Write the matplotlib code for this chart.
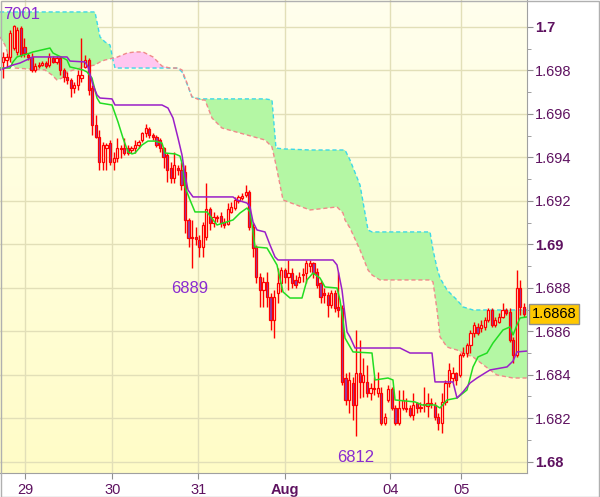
import numpy as np
import matplotlib
matplotlib.use('Agg')
import matplotlib.pyplot as plt
from matplotlib.patches import Rectangle
import matplotlib.transforms as mtransforms

plt.rcParams['font.family'] = ['Liberation Sans', 'DejaVu Sans']

# hourly candles
opens = [
    1.69839, 1.69848, 1.69862, 1.69903, 1.69885, 1.69995, 1.69908, 1.69871, 1.69862, 1.69802,
    1.69820, 1.69825, 1.69834, 1.69825, 1.69857, 1.69839, 1.69857, 1.69802, 1.69770, 1.69756,
    1.69719, 1.69733, 1.69765, 1.69816, 1.69848, 1.69719, 1.69549, 1.69494, 1.69379, 1.69443,
    1.69466, 1.69379, 1.69397, 1.69443, 1.69443, 1.69443, 1.69434, 1.69443, 1.69457, 1.69480,
    1.69512, 1.69531, 1.69503, 1.69494, 1.69480, 1.69443, 1.69411, 1.69351, 1.69305, 1.69351,
    1.69342, 1.69333, 1.69112, 1.69034, 1.69034, 1.69020, 1.68988, 1.69034, 1.69163, 1.69098,
    1.69126, 1.69130, 1.69103, 1.69094, 1.69149, 1.69167, 1.69199, 1.69213, 1.69227, 1.69241,
    1.69080, 1.68988, 1.68850, 1.68790, 1.68827, 1.68758, 1.68652, 1.68776, 1.68822, 1.68882,
    1.68850, 1.68868, 1.68836, 1.68827, 1.68859, 1.68868, 1.68900, 1.68914, 1.68873, 1.68822,
    1.68776, 1.68767, 1.68721, 1.68776, 1.68712, 1.68707, 1.68385, 1.68284, 1.68362, 1.68261,
    1.68408, 1.68367, 1.68367, 1.68316, 1.68339, 1.68316, 1.68316, 1.68178, 1.68284, 1.68335,
    1.68247, 1.68178, 1.68247, 1.68247, 1.68247, 1.68215, 1.68270, 1.68252, 1.68261, 1.68256,
    1.68270, 1.68261, 1.68206, 1.68178, 1.68275, 1.68362, 1.68385, 1.68408, 1.68399, 1.68491,
    1.68500, 1.68537, 1.68592, 1.68620, 1.68615, 1.68620, 1.68652, 1.68698, 1.68629, 1.68643,
    1.68666, 1.68698, 1.68689, 1.68560, 1.68491, 1.68799, 1.68712,
]
highs = [
    1.69885, 1.69880, 1.69986, 1.70010, 1.70000, 1.70004, 1.69949, 1.69880, 1.69880, 1.69834,
    1.69839, 1.69843, 1.69843, 1.69880, 1.69866, 1.69866, 1.69866, 1.69811, 1.69793, 1.69765,
    1.69747, 1.69802, 1.69949, 1.69871, 1.69857, 1.69733, 1.69595, 1.69526, 1.69471, 1.69466,
    1.69480, 1.69425, 1.69489, 1.69457, 1.69489, 1.69457, 1.69452, 1.69480, 1.69480, 1.69517,
    1.69554, 1.69540, 1.69512, 1.69503, 1.69489, 1.69448, 1.69420, 1.69379, 1.69425, 1.69365,
    1.69379, 1.69365, 1.69121, 1.69112, 1.69080, 1.69043, 1.69103, 1.69282, 1.69172, 1.69149,
    1.69135, 1.69149, 1.69121, 1.69190, 1.69195, 1.69218, 1.69227, 1.69236, 1.69273, 1.69250,
    1.69098, 1.68997, 1.68868, 1.68850, 1.68873, 1.68776, 1.68790, 1.68891, 1.68896, 1.68891,
    1.68928, 1.68891, 1.68859, 1.68873, 1.68891, 1.68928, 1.68928, 1.68919, 1.68891, 1.68836,
    1.68799, 1.68781, 1.68790, 1.68790, 1.68873, 1.68721, 1.68408, 1.68413, 1.68390, 1.68606,
    1.68560, 1.68477, 1.68445, 1.68362, 1.68390, 1.68413, 1.68344, 1.68224, 1.68353, 1.68344,
    1.68261, 1.68330, 1.68330, 1.68293, 1.68261, 1.68316, 1.68275, 1.68275, 1.68344, 1.68316,
    1.68293, 1.68275, 1.68224, 1.68316, 1.68376, 1.68454, 1.68436, 1.68413, 1.68500, 1.68528,
    1.68546, 1.68606, 1.68643, 1.68638, 1.68652, 1.68666, 1.68707, 1.68707, 1.68666, 1.68684,
    1.68730, 1.68707, 1.68707, 1.68574, 1.68882, 1.68836, 1.68730,
]
lows = [
    1.69765, 1.69816, 1.69839, 1.69894, 1.69871, 1.69862, 1.69862, 1.69848, 1.69793, 1.69793,
    1.69811, 1.69820, 1.69811, 1.69816, 1.69834, 1.69830, 1.69779, 1.69747, 1.69738, 1.69678,
    1.69696, 1.69710, 1.69747, 1.69811, 1.69687, 1.69503, 1.69489, 1.69342, 1.69342, 1.69342,
    1.69365, 1.69342, 1.69379, 1.69397, 1.69411, 1.69411, 1.69420, 1.69420, 1.69443, 1.69471,
    1.69494, 1.69489, 1.69480, 1.69448, 1.69425, 1.69351, 1.69287, 1.69282, 1.69282, 1.69319,
    1.69250, 1.69052, 1.68988, 1.68890, 1.68997, 1.68942, 1.68942, 1.69020, 1.69066, 1.69080,
    1.69103, 1.69080, 1.69075, 1.69089, 1.69144, 1.69158, 1.69190, 1.69204, 1.69218, 1.69066,
    1.68942, 1.68822, 1.68712, 1.68712, 1.68712, 1.68606, 1.68569, 1.68730, 1.68781, 1.68822,
    1.68790, 1.68799, 1.68799, 1.68822, 1.68827, 1.68822, 1.68873, 1.68845, 1.68799, 1.68730,
    1.68730, 1.68666, 1.68707, 1.68689, 1.68666, 1.68353, 1.68261, 1.68224, 1.68192, 1.68120,
    1.68293, 1.68298, 1.68298, 1.68284, 1.68307, 1.68298, 1.68169, 1.68169, 1.68275, 1.68238,
    1.68169, 1.68169, 1.68238, 1.68229, 1.68206, 1.68192, 1.68224, 1.68229, 1.68229, 1.68206,
    1.68247, 1.68192, 1.68146, 1.68132, 1.68261, 1.68344, 1.68367, 1.68353, 1.68390, 1.68482,
    1.68482, 1.68500, 1.68574, 1.68583, 1.68597, 1.68606, 1.68643, 1.68620, 1.68620, 1.68638,
    1.68661, 1.68675, 1.68551, 1.68454, 1.68482, 1.68675, 1.68666,
]
closes = [
    1.69862, 1.69862, 1.69972, 1.70004, 1.69986, 1.69871, 1.69880, 1.69862, 1.69802, 1.69820,
    1.69825, 1.69834, 1.69820, 1.69862, 1.69839, 1.69857, 1.69802, 1.69770, 1.69756, 1.69719,
    1.69733, 1.69779, 1.69779, 1.69848, 1.69710, 1.69549, 1.69494, 1.69379, 1.69457, 1.69457,
    1.69379, 1.69397, 1.69443, 1.69440, 1.69420, 1.69420, 1.69443, 1.69457, 1.69471, 1.69512,
    1.69535, 1.69503, 1.69494, 1.69457, 1.69443, 1.69402, 1.69342, 1.69305, 1.69365, 1.69342,
    1.69273, 1.69112, 1.69029, 1.69030, 1.69025, 1.68988, 1.69089, 1.69163, 1.69098, 1.69126,
    1.69121, 1.69098, 1.69089, 1.69163, 1.69172, 1.69204, 1.69218, 1.69222, 1.69241, 1.69080,
    1.68983, 1.68850, 1.68790, 1.68827, 1.68758, 1.68652, 1.68758, 1.68822, 1.68882, 1.68850,
    1.68868, 1.68822, 1.68813, 1.68850, 1.68864, 1.68914, 1.68914, 1.68868, 1.68813, 1.68758,
    1.68767, 1.68721, 1.68776, 1.68707, 1.68698, 1.68367, 1.68284, 1.68376, 1.68261, 1.68408,
    1.68367, 1.68399, 1.68316, 1.68339, 1.68335, 1.68339, 1.68178, 1.68206, 1.68335, 1.68247,
    1.68178, 1.68247, 1.68284, 1.68243, 1.68215, 1.68261, 1.68247, 1.68247, 1.68266, 1.68270,
    1.68266, 1.68206, 1.68178, 1.68275, 1.68362, 1.68422, 1.68408, 1.68376, 1.68491, 1.68500,
    1.68537, 1.68592, 1.68629, 1.68592, 1.68629, 1.68652, 1.68698, 1.68629, 1.68652, 1.68666,
    1.68698, 1.68684, 1.68560, 1.68491, 1.68799, 1.68712, 1.68680,
]

# conversion line (green) and base line (purple), vertices in bar units
tenkan_x = [-0.84, 1.96, 2.80, 3.92, 7.57, 8.41, 13.17, 14.01, 17.94, 18.78, 22.42, 23.54,
            24.94, 26.35, 27.19, 30.55, 32.23, 33.63, 35.03, 36.15, 37.00, 38.96, 40.64, 42.60,
            44.56, 45.40, 48.21, 49.61, 50.45, 51.01, 52.41, 53.81, 57.17, 59.98, 64.46, 66.42,
            68.39, 69.23, 69.79, 70.63, 73.99, 76.79, 78.48, 80.44, 83.80, 85.20, 86.88, 88.85,
            90.25, 93.61, 94.45, 95.29, 95.85, 98.09, 103.42, 104.26, 107.90, 109.30, 109.87,
            115.47, 117.43, 121.08, 122.48, 124.44, 127.24, 130.04, 131.73, 133.13, 135.65,
            137.33, 140.13, 142.10, 142.94, 144.06, 144.90, 146.86]
tenkan_y = [1.69811, 1.69811, 1.69839, 1.69862, 1.69880, 1.69885, 1.69903, 1.69880, 1.69848,
            1.69816, 1.69802, 1.69793, 1.69765, 1.69673, 1.69650, 1.69641, 1.69563, 1.69489,
            1.69425, 1.69416, 1.69420, 1.69457, 1.69475, 1.69475, 1.69466, 1.69420, 1.69416,
            1.69406, 1.69356, 1.69264, 1.69204, 1.69149, 1.69149, 1.69089, 1.69112, 1.69144,
            1.69167, 1.69149, 1.69089, 1.68988, 1.68983, 1.68905, 1.68781, 1.68753, 1.68753,
            1.68836, 1.68868, 1.68845, 1.68804, 1.68799, 1.68744, 1.68652, 1.68569, 1.68505,
            1.68500, 1.68376, 1.68385, 1.68376, 1.68284, 1.68275, 1.68261, 1.68261, 1.68247,
            1.68284, 1.68293, 1.68330, 1.68436, 1.68482, 1.68500, 1.68546, 1.68606, 1.68620,
            1.68583, 1.68629, 1.68661, 1.68666]
kijun_x = [-0.84, 2.80, 4.76, 8.41, 17.94, 18.78, 22.98, 23.82, 25.22, 26.35, 27.19, 30.55,
           31.39, 44.56, 46.24, 47.65, 49.05, 50.17, 51.01, 51.85, 53.25, 64.46, 65.58, 68.39,
           69.23, 70.07, 71.19, 73.43, 74.83, 76.23, 77.07, 92.49, 93.61, 95.01, 96.41, 97.25,
           98.65, 111.27, 114.07, 120.24, 121.08, 126.12, 127.24, 128.92, 130.89, 132.85,
           135.09, 136.49, 141.26, 142.94, 144.06, 146.86]
kijun_y = [1.69802, 1.69825, 1.69834, 1.69862, 1.69862, 1.69843, 1.69839, 1.69816, 1.69733,
           1.69687, 1.69673, 1.69669, 1.69641, 1.69641, 1.69627, 1.69581, 1.69489, 1.69411,
           1.69319, 1.69250, 1.69218, 1.69218, 1.69204, 1.69190, 1.69172, 1.69103, 1.69066,
           1.69057, 1.68997, 1.68942, 1.68928, 1.68928, 1.68905, 1.68790, 1.68597, 1.68574,
           1.68523, 1.68523, 1.68500, 1.68500, 1.68367, 1.68367, 1.68293, 1.68321, 1.68362,
           1.68385, 1.68408, 1.68422, 1.68436, 1.68463, 1.68505, 1.68509]

# cloud: leading span A (cyan) and span B (salmon)
cloud_x = [-0.84, 0.56, 1.96, 3.36, 11.77, 13.73, 15.13, 16.54, 17.94, 21.58, 25.78, 27.19,
           28.59, 29.99, 30.83, 31.39, 34.75, 37.00, 39.24, 42.04, 44.56, 46.81, 49.05, 50.17,
           51.57, 52.97, 55.21, 56.61, 58.58, 61.38, 73.43, 75.39, 76.51, 78.48, 86.04, 93.61,
           95.29, 95.85, 97.25, 100.06, 102.30, 103.42, 105.66, 119.68, 120.52, 121.64, 122.48,
           124.44, 125.28, 127.24, 128.92, 131.73, 136.49, 138.45, 142.94, 146.86]
span_a = [1.70069, 1.70069, 1.70069, 1.70069, 1.70069, 1.70069, 1.70069, 1.70069, 1.70069,
          1.70069, 1.70069, 1.69954, 1.69931, 1.69917, 1.69848, 1.69811, 1.69811, 1.69811,
          1.69811, 1.69811, 1.69811, 1.69811, 1.69811, 1.69793, 1.69738, 1.69678, 1.69669,
          1.69669, 1.69669, 1.69669, 1.69669, 1.69664, 1.69443, 1.69439, 1.69434, 1.69434,
          1.69434, 1.69434, 1.69388, 1.69273, 1.69066, 1.69057, 1.69057, 1.69057, 1.68974,
          1.68891, 1.68845, 1.68790, 1.68776, 1.68744, 1.68712, 1.68698, 1.68698, 1.68698,
          1.68698, 1.68698]
span_b = [1.69954, 1.69917, 1.69848, 1.69811, 1.69802, 1.69779, 1.69756, 1.69765, 1.69793,
          1.69811, 1.69825, 1.69839, 1.69848, 1.69853, 1.69857, 1.69857, 1.69880, 1.69885,
          1.69885, 1.69862, 1.69820, 1.69811, 1.69811, 1.69802, 1.69742, 1.69678, 1.69664,
          1.69664, 1.69581, 1.69535, 1.69480, 1.69448, 1.69365, 1.69204, 1.69158, 1.69172,
          1.69144, 1.69112, 1.69075, 1.68974, 1.68882, 1.68859, 1.68836, 1.68836, 1.68827,
          1.68698, 1.68574, 1.68528, 1.68523, 1.68514, 1.68500, 1.68482, 1.68422, 1.68399,
          1.68385, 1.68385]

day_ticks = [6.2, 30.6, 54.7, 79.0, 108.5, 128.4]
day_labels = ['29', '30', '31', 'Aug', '04', '05']
price_ticks = [1.68, 1.682, 1.684, 1.686, 1.688, 1.69, 1.692, 1.694, 1.696, 1.698, 1.7]
price_labels = ['1.68', '1.682', '1.684', '1.686', '1.688', '1.69', '1.692', '1.694',
                '1.696', '1.698', '1.7']
bold_labels = ['1.68', '1.69', '1.7', 'Aug']

fig = plt.figure(figsize=(6, 4.97), dpi=100)
fig.patch.set_facecolor('white')
ax = fig.add_axes([0, 24 / 497, 527 / 600, 473 / 497])

# yellow gradient background
t = np.linspace(0, 1, 256)[:, None, None]
top_c = np.array([1.0, 1.0, 0.93])
bot_c = np.array([1.0, 0.99, 0.78])
ax.imshow(top_c + (bot_c - top_c) * t, extent=[0, 1, 0, 1], transform=ax.transAxes,
          aspect='auto', zorder=0)

# cloud
a = np.array(span_a)
b = np.array(span_b)
ax.fill_between(cloud_x, a, b, where=a >= b, interpolate=True, color='#b4f7a4', lw=0, zorder=1)
ax.fill_between(cloud_x, a, b, where=a < b, interpolate=True, color='#ffc6f0', lw=0, zorder=1)
ax.plot(cloud_x, a, color='#3cd8e8', lw=1.0, ls=(0, (3, 2)), zorder=2)
ax.plot(cloud_x, b, color='#f08a8a', lw=1.0, ls=(0, (3, 2)), zorder=2)

# candles
o = np.array(opens)
c = np.array(closes)
x = np.arange(len(c))
up = c >= o
body_lo = np.minimum(o, c)
body_h = np.maximum(np.abs(c - o), 0.00002)
ax.vlines(x, lows, highs, color='#ff0000', lw=1.0, zorder=3)
ax.bar(x[up], body_h[up], bottom=body_lo[up], width=0.62, facecolor='#fffbe2',
       edgecolor='#ff0000', lw=0.9, zorder=4)
ax.bar(x[~up], body_h[~up], bottom=body_lo[~up], width=0.62, facecolor='#8a3fb0',
       edgecolor='#ff0000', lw=0.9, zorder=4)

# tenkan / kijun
ax.plot(tenkan_x, tenkan_y, color='#22dd22', lw=1.1, zorder=5)
ax.plot(kijun_x, kijun_y, color='#9a1fc8', lw=1.1, zorder=5)

# high / low labels
def short(v):
    return '%04d' % (int(round(v * 10000)) % 10000)

i_hi = int(np.argmax(highs))
i_mid = 40 + int(np.argmin(lows[40:60]))
i_lo = int(np.argmin(lows))
lab = dict(textcoords='offset pixels', ha='center', va='center', color='#8a2bd0', fontsize=12, zorder=6)
ax.annotate(short(highs[i_hi]), xy=(i_hi, highs[i_hi]), xytext=(8, 10), **lab)
ax.annotate(short(lows[i_mid]), xy=(i_mid, lows[i_mid]), xytext=(-2, -20), **lab)
ax.annotate(short(lows[i_lo]), xy=(i_lo, lows[i_lo]), xytext=(-1, -22), **lab)

ax.set_xlim(-0.84, 146.86)
ax.set_ylim(1.67948, 1.70124)

# axes styling
ax.set_axisbelow(True)
ax.yaxis.tick_right()
ax.set_yticks(price_ticks)
ax.set_yticklabels(price_labels)
ax.set_yticks(np.arange(1.681, 1.7005, 0.002), minor=True)
ax.set_xticks(day_ticks)
ax.set_xticklabels(day_labels)
ax.grid(True, which='major', color='#e2dfb8', lw=1.0)
for s in ['left', 'top']:
    ax.spines[s].set_visible(False)
for s in ['right', 'bottom']:
    ax.spines[s].set_color('#a0a0a0')
ax.tick_params(axis='y', which='major', length=4, color='#909090', labelsize=10.5,
               labelcolor='#5e1260', pad=2)
ax.tick_params(axis='y', which='minor', length=3, color='#909090')
ax.tick_params(axis='x', length=4, color='#909090', labelsize=10.5, labelcolor='#5e1260', pad=3)
for tl in ax.get_yticklabels() + ax.get_xticklabels():
    if tl.get_text() in bold_labels:
        tl.set_fontweight('bold')

# last price box
trans = mtransforms.blended_transform_factory(ax.transAxes, ax.transData)
ax.text(1.0085, closes[-1], '%.4f' % closes[-1], transform=trans, ha='left', va='center',
        fontsize=10.5, color='black', clip_on=False, zorder=7,
        bbox=dict(boxstyle='square,pad=0.18', fc='#ffc800', ec='#909090', lw=1))

fig.patches.append(Rectangle((0.001, 0.001), 0.997, 0.997, transform=fig.transFigure,
                             fill=False, ec='#b0b0b0', lw=1))

fig.savefig('out.png', dpi=100)
